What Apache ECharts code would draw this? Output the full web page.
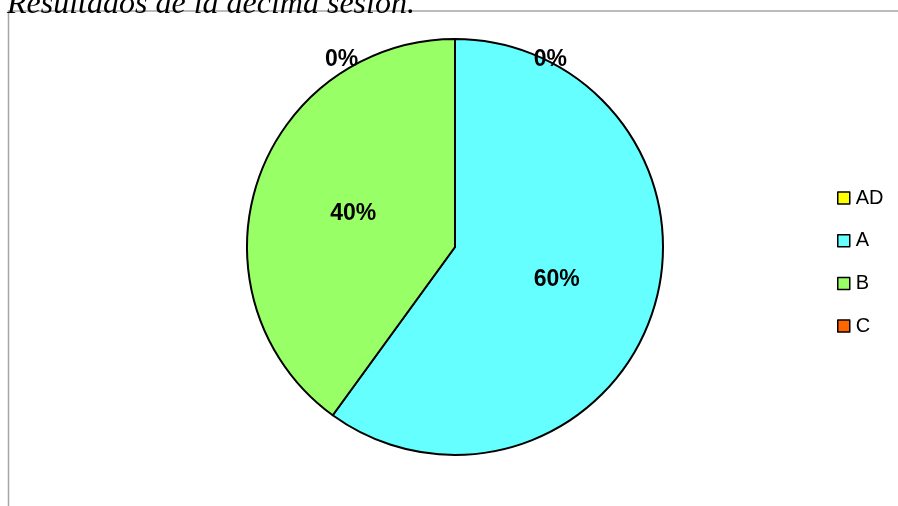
<!DOCTYPE html>
<html>
<head>
<meta charset="utf-8">
<script src="https://cdn.jsdelivr.net/npm/echarts@6/dist/echarts.min.js"></script>
<style>
  html, body { margin: 0; padding: 0; background: #fff; }
  #chart { width: 898px; height: 506px; }
</style>
</head>
<body>
<div id="chart"></div>
<script>
// Grades obtained in the tenth session
const categories = ['AD', 'A', 'B', 'C'];
const values = [0, 60, 40, 0];
const colors = ['#FFFF00', '#66FFFF', '#99FF66', '#FF6600'];
const titleText = 'Resultados de la décima sesión.';

const CX = 455, CY = 247, R = 208;
const sans = '"Liberation Sans", Arial, sans-serif';

const chart = echarts.init(document.getElementById('chart'), null, { renderer: 'canvas' });

// Empty slices get their labels set just outside the rim, either side of the top
// (angle in degrees clockwise from 12 o'clock, distance from the centre)
const zeroLabelPlace = { 0: [27, 210], 3: [-31.2, 219] };

chart.setOption({
  animation: false,
  backgroundColor: '#ffffff',
  title: {
    text: titleText,
    left: 7,
    top: -11,
    padding: 0,
    textStyle: {
      fontFamily: '"Liberation Serif", "Times New Roman", serif',
      fontStyle: 'italic',
      fontWeight: 'normal',
      fontSize: 32,
      color: '#000'
    }
  },
  graphic: [
    {
      type: 'polyline',
      z: -1,
      shape: { points: [[8.5, 506], [8.5, 11], [898, 11]] },
      style: { stroke: '#a6a6a6', lineWidth: 1.5, fill: null }
    }
  ],
  legend: {
    orient: 'vertical',
    left: 832,
    top: 183,
    itemWidth: 12,
    itemHeight: 12,
    itemGap: 22.7,
    icon: 'rect',
    data: categories,
    itemStyle: { borderColor: '#000', borderWidth: 1.5 },
    textStyle: {
      fontFamily: sans,
      fontSize: 20,
      color: '#000',
      padding: [0, 0, 0, 1]
    }
  },
  series: [{
    type: 'pie',
    center: [CX, CY],
    radius: R,
    startAngle: 90,
    clockwise: true,
    silent: true,
    stillShowZeroSum: true,
    data: categories.map((name, i) => ({
      name: name,
      value: values[i],
      itemStyle: { color: colors[i] }
    })),
    itemStyle: { borderColor: '#000', borderWidth: 2 },
    label: {
      show: true,
      position: 'inside',
      formatter: p => Math.round(p.percent) + '%',
      fontFamily: sans,
      fontWeight: 'bold',
      fontSize: 23,
      color: '#000'
    },
    labelLine: { show: false },
    labelLayout: function (params) {
      const place = zeroLabelPlace[params.dataIndex];
      if (!place) return {};
      const rad = place[0] * Math.PI / 180;
      return {
        x: CX + place[1] * Math.sin(rad),
        y: CY - place[1] * Math.cos(rad),
        align: 'center',
        verticalAlign: 'middle'
      };
    }
  }]
});
</script>
</body>
</html>
